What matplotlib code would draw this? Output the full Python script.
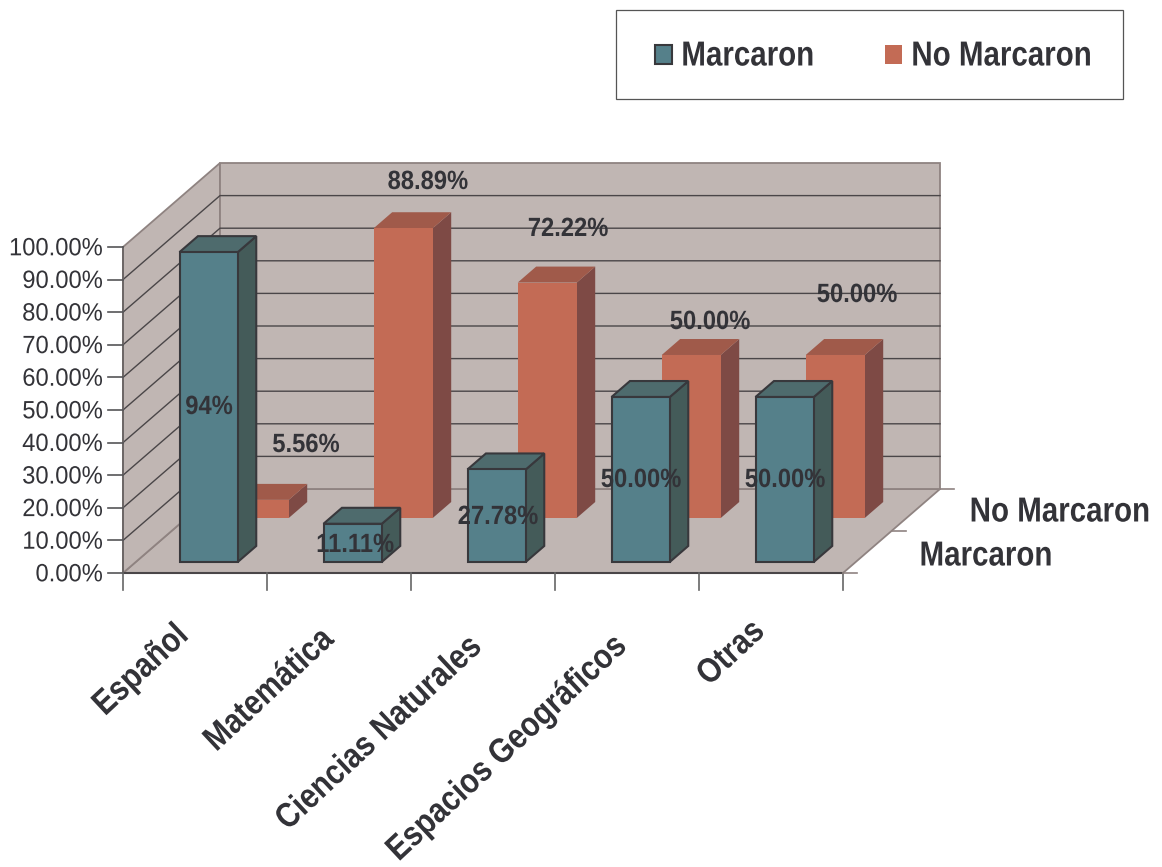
import numpy as np
import matplotlib
matplotlib.use('Agg')
import matplotlib.pyplot as plt
from matplotlib.patches import Polygon, Rectangle
from matplotlib.patheffects import AbstractPathEffect
from matplotlib.transforms import Affine2D

categories = ['Español', 'Matemática', 'Ciencias Naturales', 'Espacios Geográficos', 'Otras']
series_names = ['Marcaron', 'No Marcaron']
marcaron = [94.44, 11.11, 27.78, 50.0, 50.0]
no_marcaron = [5.56, 88.89, 72.22, 50.0, 50.0]
marcaron_labels = ['94%', '11.11%', '27.78%', '50.00%', '50.00%']
no_marcaron_labels = ['5.56%', '88.89%', '72.22%', '50.00%', '50.00%']
y_ticks = np.arange(0, 101, 10)

plt.rcParams['font.family'] = ['Liberation Sans', 'DejaVu Sans']
W, H = 1162, 867
fig = plt.figure(figsize=(W / 100, H / 100), dpi=100)
# front plane of the fake 3d box
ax = fig.add_axes([123 / W, 1 - 573 / H, 720 / W, 326 / H])
ax.set_xlim(0, 5)
ax.set_ylim(0, 100)
ax.axis('off')

DX = 97 / 144   # depth shift in category units
DY = 84 / 3.26  # depth shift in percent
edge = '#38383c'
box_edge = '#8f8381'
wall = '#c0b6b3'
txt = '#333338'


class Squeeze(AbstractPathEffect):
    # the reference text is horizontally condensed, no narrow font is installed
    def __init__(self, sx, anchor='center'):
        super().__init__()
        self.sx = sx
        self.anchor = anchor

    def draw_path(self, renderer, gc, tpath, affine, rgbFace=None):
        ext = tpath.get_extents()
        c = {'left': ext.x0, 'center': (ext.x0 + ext.x1) / 2, 'right': ext.x1}[self.anchor]
        squeeze = Affine2D().translate(-c, 0).scale(self.sx, 1).translate(c, 0)
        renderer.draw_path(gc, tpath, squeeze + affine, rgbFace)


def proj(x, y, d):
    return (x + d * DX, y + d * DY)


def face(pts, fc, ec=edge, z=1, lw=1.5):
    ax.add_patch(Polygon([proj(*p) for p in pts], closed=True, fc=fc, ec=ec, lw=lw, zorder=z, clip_on=False))


def bar3d(x0, val, d0, colors, z, ec, base=0.0, width=0.41):
    x1 = x0 + width
    d1 = d0 + 0.19
    face([(x1, base, d0), (x1, base, d1), (x1, val, d1), (x1, val, d0)], colors[2], ec, z)
    face([(x0, val, d0), (x1, val, d0), (x1, val, d1), (x0, val, d1)], colors[1], ec, z)
    face([(x0, base, d0), (x1, base, d0), (x1, val, d0), (x0, val, d0)], colors[0], ec, z)


# walls and floor
face([(0, 0, 0), (5, 0, 0), (5, 0, 1), (0, 0, 1)], wall, box_edge, 0, 1.3)
face([(0, 0, 0), (0, 0, 1), (0, 100, 1), (0, 100, 0)], wall, box_edge, 0, 1.3)
face([(0, 0, 1), (5, 0, 1), (5, 100, 1), (0, 100, 1)], wall, box_edge, 0, 1.3)
for t in y_ticks[1:-1]:
    ax.plot(*zip(proj(0, t, 0), proj(0, t, 1), proj(5, t, 1)), color='#4a4648', lw=1.0, zorder=0.5, clip_on=False)
ax.plot([0, 0], [0, 100], color='#6a6464', lw=1.3, zorder=0.6, clip_on=False)
ax.plot([0, 5], [0, 0], color='#4a4648', lw=1.5, zorder=0.6, clip_on=False)
for t in y_ticks:
    ax.plot([-0.104, 0], [t, t], color='#555558', lw=1.2, clip_on=False)
    ax.text(-0.139, t - 0.4, '%.2f%%' % t, ha='right', va='center', fontsize=18, color=txt,
            path_effects=[Squeeze(0.95, 'right')])

# ticks under the front edge
for i in range(6):
    ax.plot([i, i], [0, -5.2], color='#666666', lw=1.2, clip_on=False)
for d in [0, 0.5, 1]:
    p = proj(5, 0, d)
    ax.plot([p[0], p[0] + 0.1], [p[1], p[1]], color=box_edge, lw=1.2, clip_on=False)

teal = ['#55808a', '#4e6b6d', '#445b59']
orange = ['#c36b55', '#a05a4a', '#7e4a45']
for i in range(5):
    bar3d(i + 0.3, no_marcaron[i], 0.655, orange, 2 + i, 'none')
for i in range(5):
    bar3d(i + 0.288, marcaron[i], 0.155, teal, 12 + i, edge, base=-0.6, width=0.405)

# data labels
lab_kw = dict(fontsize=19, fontweight='bold', color=txt, ha='center', va='center', zorder=30,
              clip_on=False, path_effects=[Squeeze(0.9)])
mar_xy = [(209, 407), (355, 545), (498, 517), (641, 480), (785, 480)]
no_xy = [(306, 445), (428, 182), (568, 229), (710, 322), (857, 295)]
for s, (px, py) in zip(marcaron_labels, mar_xy):
    fig.text(px / W, 1 - py / H, s, **lab_kw)
for s, (px, py) in zip(no_marcaron_labels, no_xy):
    fig.text(px / W, 1 - py / H, s, **lab_kw)

# category labels
big_kw = dict(fontsize=25, fontweight='bold', color=txt)
cat_xy = [(141, 670), (269, 690), (379, 733), (507, 748), (731, 653)]
for s, (px, py) in zip(categories, cat_xy):
    fig.text(px / W, 1 - py / H, s, rotation=43, rotation_mode='anchor', ha='center', va='center',
             path_effects=[Squeeze(0.86)], **big_kw)

# series names on the side
fig.text(1060 / W, 1 - 512 / H, series_names[1], ha='center', va='center', path_effects=[Squeeze(0.85)], **big_kw)
fig.text(986 / W, 1 - 556 / H, series_names[0], ha='center', va='center', path_effects=[Squeeze(0.85)], **big_kw)

# legend box
fig.add_artist(Rectangle((616 / W, 1 - 99 / H), 507 / W, 89 / H, transform=fig.transFigure, fc='white', ec='#555555', lw=0.9))
fig.add_artist(Rectangle((655 / W, 1 - 64 / H), 17 / W, 19 / H, transform=fig.transFigure, fc=teal[0], ec=edge, lw=1.5))
fig.add_artist(Rectangle((885 / W, 1 - 64 / H), 17 / W, 19 / H, transform=fig.transFigure, fc=orange[0], ec='none'))
fig.text(681 / W, 1 - 56 / H, series_names[0], ha='left', va='center', path_effects=[Squeeze(0.85, 'left')], **big_kw)
fig.text(911 / W, 1 - 56 / H, series_names[1], ha='left', va='center', path_effects=[Squeeze(0.85, 'left')], **big_kw)

fig.savefig('out.png', dpi=100)
